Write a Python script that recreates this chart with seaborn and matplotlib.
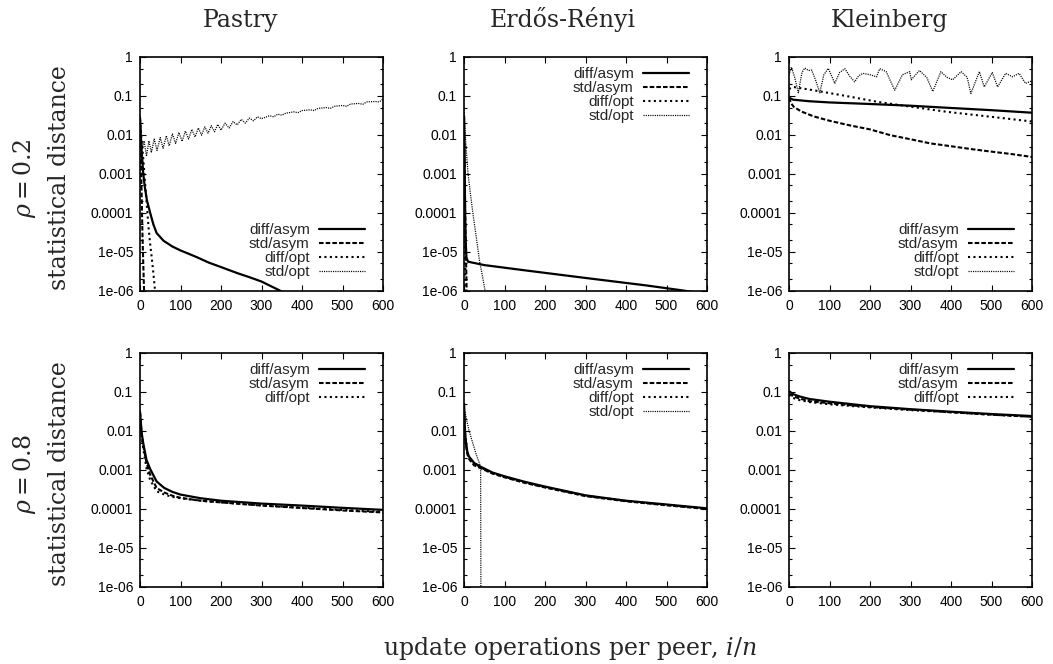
import numpy as np
import pandas as pd
import matplotlib
matplotlib.use("Agg")
import matplotlib.pyplot as plt
import matplotlib.ticker as mticker
import seaborn as sns

# ---------------- data ----------------
col_titles = ["Pastry", "Erdős-Rényi", "Kleinberg"]
row_labels = [r"$\rho = 0.2$", r"$\rho = 0.8$"]
ylabel_text = "statistical distance"
xlabel_text = r"update operations per peer, $i/n$"
xticks = [0, 100, 200, 300, 400, 500, 600]
yticks = [1e-6, 1e-5, 1e-4, 1e-3, 1e-2, 1e-1, 1]
ytick_labels = ["1e-06", "1e-05", "0.0001", "0.001", "0.01", "0.1", "1"]
series_names = ["diff/asym", "std/asym", "diff/opt", "std/opt"]

# Pastry, rho = 0.2
p2_da_x = [0, 2, 4, 8, 12, 17, 25, 33, 41, 58, 80, 100, 120, 140, 170, 200, 240, 270, 300, 345, 400]
p2_da_y = [0.028, 0.01, 4e-3, 1e-3, 4.5e-4, 2.1e-4, 1e-4, 5e-5, 3e-5, 1.9e-5, 1.35e-5, 1.07e-5,
           8.8e-6, 7.2e-6, 5.2e-6, 4e-6, 2.8e-6, 2.2e-6, 1.7e-6, 1e-6, 5e-7]
p2_sa_x = [0, 2, 4, 6, 8, 10, 12]
p2_sa_y = [0.025, 3e-3, 3e-4, 3e-5, 5e-6, 1e-6, 1e-7]
p2_do_x = [0, 4, 8, 12, 16, 21, 25, 29, 33, 37, 45]
p2_do_y = [0.025, 0.007, 2.5e-3, 6.8e-4, 2e-4, 4.3e-5, 1.6e-5, 7e-6, 2.8e-6, 1e-6, 1.5e-7]
p2_so_x = [0, 3, 6, 10, 16, 22, 28, 35, 42, 50, 57, 65, 72, 80, 88, 96, 104, 112, 120, 128,
           136, 144, 152, 160, 168, 176, 184, 192, 200, 210, 220, 230, 240, 250, 260, 270, 280,
           290, 300, 320, 330, 340, 350, 360, 380, 390, 400, 420, 430, 440, 460, 470, 480, 500,
           510, 520, 540, 550, 560, 580, 590, 600]
p2_so_y = [0.03, 0.008, 0.0045, 0.007, 0.0028, 0.007, 0.0035, 0.0078, 0.004, 0.0085, 0.0045,
           0.0095, 0.0052, 0.0105, 0.006, 0.0115, 0.0068, 0.0125, 0.0078, 0.0138, 0.0088, 0.015,
           0.0098, 0.016, 0.011, 0.0172, 0.012, 0.0185, 0.0132, 0.02, 0.015, 0.022, 0.018, 0.025,
           0.02, 0.027, 0.023, 0.029, 0.026, 0.031, 0.029, 0.034, 0.032, 0.036, 0.039, 0.037,
           0.042, 0.044, 0.042, 0.048, 0.05, 0.048, 0.054, 0.057, 0.054, 0.062, 0.064, 0.061,
           0.07, 0.072, 0.07, 0.082]

# Erdos-Renyi, rho = 0.2
e2_da_x = [0, 1, 2, 3, 4, 6, 10, 50, 150, 300, 450, 541, 600]
e2_da_y = [0.03, 0.005, 6e-4, 8e-5, 2e-5, 7e-6, 5.5e-6, 4.5e-6, 3.3e-6, 2.1e-6, 1.35e-6, 1e-6, 8e-7]
e2_sa_x = [0, 1, 2, 4, 6, 8]
e2_sa_y = [0.03, 0.004, 3e-4, 2e-5, 2e-6, 1e-7]
e2_do_x = [0, 1, 2, 3, 4, 5]
e2_do_y = [0.03, 0.002, 1e-4, 5e-6, 5e-7, 1e-8]
e2_so_x = [0, 4, 10, 16, 23, 30, 38, 45, 52, 60]
e2_so_y = [0.05, 0.007, 1e-3, 3e-4, 8e-5, 2.5e-5, 6e-6, 2.5e-6, 1e-6, 3e-7]

# Kleinberg, rho = 0.2
k2_da_x = [0, 10, 50, 100, 200, 300, 400, 500, 600]
k2_da_y = [0.09, 0.08, 0.073, 0.068, 0.062, 0.056, 0.049, 0.043, 0.037]
k2_sa_x = [0, 5, 12, 30, 60, 100, 150, 200, 250, 300, 350, 400, 450, 500, 550, 600]
k2_sa_y = [0.09, 0.065, 0.052, 0.04, 0.03, 0.023, 0.0175, 0.0138, 0.0098, 0.0077, 0.006,
           0.0051, 0.0043, 0.0037, 0.0032, 0.0027]
k2_do_x = [0, 10, 60, 140, 220, 300, 390, 500, 600]
k2_do_y = [0.15, 0.17, 0.14, 0.1, 0.07, 0.053, 0.039, 0.029, 0.022]
k2_so_x = [0, 6, 14, 23, 32, 39, 48, 56, 66, 76, 86, 97, 105, 113, 125, 138, 150, 162, 172,
           183, 200, 216, 224, 240, 261, 280, 298, 302, 322, 340, 355, 375, 390, 404, 425, 440,
           449, 470, 482, 502, 515, 535, 552, 568, 584, 598, 600]
k2_so_y = [0.35, 0.55, 0.3, 0.12, 0.4, 0.52, 0.45, 0.46, 0.25, 0.12, 0.35, 0.51, 0.33, 0.21,
           0.4, 0.5, 0.32, 0.23, 0.33, 0.38, 0.35, 0.31, 0.5, 0.42, 0.14, 0.35, 0.42, 0.26,
           0.45, 0.3, 0.13, 0.42, 0.3, 0.26, 0.42, 0.3, 0.115, 0.42, 0.17, 0.4, 0.17, 0.38,
           0.31, 0.38, 0.21, 0.24, 0.23]

# Pastry, rho = 0.8
p8_x = [0, 4, 8, 16, 25, 41, 60, 80, 100, 150, 200, 300, 400, 500, 600]
p8_da_y = [0.031, 0.009, 0.0048, 0.0018, 1.05e-3, 5e-4, 3.4e-4, 2.7e-4, 2.3e-4, 1.85e-4,
           1.6e-4, 1.35e-4, 1.2e-4, 1.05e-4, 9.3e-5]
p8_sa_y = [0.03, 0.008, 0.0042, 0.0015, 7.5e-4, 3.4e-4, 2.6e-4, 2.15e-4, 1.9e-4, 1.6e-4,
           1.45e-4, 1.2e-4, 1.04e-4, 9e-5, 8e-5]
p8_do_y = [0.028, 0.007, 0.0035, 1.1e-3, 5.5e-4, 2.8e-4, 2.3e-4, 2.0e-4, 1.85e-4, 1.6e-4,
           1.45e-4, 1.22e-4, 1.06e-4, 9.3e-5, 8.3e-5]

# Erdos-Renyi, rho = 0.8
e8_x = [0, 2, 4, 8, 12, 25, 41, 70, 100, 150, 200, 300, 400, 500, 600]
e8_da_y = [0.05, 0.012, 0.006, 0.003, 0.0022, 0.0015, 0.0012, 8.5e-4, 6.8e-4, 4.9e-4, 3.7e-4,
           2.2e-4, 1.6e-4, 1.28e-4, 1.02e-4]
e8_sa_y = [0.045, 0.01, 0.005, 0.0026, 0.0019, 0.0013, 1.1e-3, 8e-4, 6.4e-4, 4.6e-4, 3.5e-4,
           2.1e-4, 1.55e-4, 1.22e-4, 9.8e-5]
e8_do_y = [0.045, 0.011, 0.0055, 0.0028, 0.002, 0.0014, 1.15e-3, 8.2e-4, 6.6e-4, 4.75e-4,
           3.6e-4, 2.15e-4, 1.58e-4, 1.25e-4, 1e-4]
e8_so_x = [0, 6, 12, 20, 30, 41, 41.5, 42]
e8_so_y = [0.04, 0.02, 0.0106, 0.0055, 0.0025, 0.0012, 1e-5, 1e-8]

# Kleinberg, rho = 0.8
k8_x = [0, 10, 25, 50, 100, 200, 300, 400, 500, 600]
k8_da_y = [0.105, 0.088, 0.077, 0.066, 0.056, 0.043, 0.036, 0.031, 0.027, 0.024]
k8_sa_y = [0.09, 0.078, 0.068, 0.058, 0.051, 0.041, 0.035, 0.030, 0.026, 0.023]
k8_do_y = [0.085, 0.07, 0.062, 0.055, 0.048, 0.040, 0.034, 0.030, 0.026, 0.023]

panels = [
    [  # row rho = 0.2
        [(p2_da_x, p2_da_y), (p2_sa_x, p2_sa_y), (p2_do_x, p2_do_y), (p2_so_x, p2_so_y)],
        [(e2_da_x, e2_da_y), (e2_sa_x, e2_sa_y), (e2_do_x, e2_do_y), (e2_so_x, e2_so_y)],
        [(k2_da_x, k2_da_y), (k2_sa_x, k2_sa_y), (k2_do_x, k2_do_y), (k2_so_x, k2_so_y)],
    ],
    [  # row rho = 0.8
        [(p8_x, p8_da_y), (p8_x, p8_sa_y), (p8_x, p8_do_y)],
        [(e8_x, e8_da_y), (e8_x, e8_sa_y), (e8_x, e8_do_y), (e8_so_x, e8_so_y)],
        [(k8_x, k8_da_y), (k8_x, k8_sa_y), (k8_x, k8_do_y)],
    ],
]
legend_locs = [["lower right", "upper right", "lower right"],
               ["upper right", "upper right", "upper right"]]

# ---------------- styling ----------------
sns.set_theme(style="ticks")
plt.rcParams["font.family"] = ["Liberation Sans", "DejaVu Sans"]
plt.rcParams["mathtext.fontset"] = "dejavuserif"

styles = [
    dict(linestyle="-", lw=1.6),
    dict(linestyle=(0, (2.2, 1.0)), lw=1.5),
    dict(linestyle=(0, (1.0, 1.6)), lw=1.5),
    dict(linestyle=(0, (0.9, 0.9)), lw=0.9),
]

W, H = 1053, 664
fig = plt.figure(figsize=(W / 100, H / 100), dpi=100)
col_left = [140, 464, 789]
row_top = [57, 353]
aw, ah = 243, 233.5

serif = ["DejaVu Serif"]
title_size = 17

for r in range(2):
    for c in range(3):
        ax = fig.add_axes([col_left[c] / W, 1 - (row_top[r] + ah) / H, aw / W, ah / H])
        for i, (xs, ys) in enumerate(panels[r][c]):
            sns.lineplot(x=xs, y=ys, ax=ax, color="black", label=series_names[i],
                         sort=False, errorbar=None, estimator=None, **styles[i])
        ax.set_yscale("log")
        ax.set_xlim(0, 600)
        ax.set_ylim(1e-6, 1)
        ax.set_xticks(xticks)
        ax.set_xticklabels([str(t) for t in xticks])
        ax.set_yticks(yticks)
        ax.set_yticklabels(ytick_labels)
        ax.yaxis.set_minor_locator(mticker.LogLocator(base=10, subs=(2.0, 5.0), numticks=20))
        ax.yaxis.set_minor_formatter(mticker.NullFormatter())
        ax.tick_params(which="both", direction="in", top=True, right=True,
                       labelsize=10, colors="black", width=0.8)
        ax.tick_params(which="major", length=4.5, pad=5)
        ax.tick_params(which="minor", length=2.5)
        ax.tick_params(axis="x", pad=6)
        for s in ax.spines.values():
            s.set_linewidth(1.2)
            s.set_color("black")
        ax.set_xlabel("")
        ax.set_ylabel("")
        loc = legend_locs[r][c]
        anchor = (1 - 6 / aw, -1 / ah) if loc == "lower right" else (1 - 6 / aw, 1 + 2 / ah)
        ax.legend(loc=loc, bbox_to_anchor=anchor, frameon=False, markerfirst=False,
                  fontsize=11, handlelength=3.0, handletextpad=0.6,
                  labelspacing=0.0, borderaxespad=0.5, borderpad=0.3)

# titles (centered over tick labels + plot area, as in the reference)
col_centers = [241, 563, 889]
for c in range(3):
    fig.text(col_centers[c] / W, 1 - 20 / H, col_titles[c], ha="center", va="center",
             fontsize=title_size, family=serif)

# row labels
for r in range(2):
    yc = 1 - (row_top[r] + ah / 2 + 4) / H
    fig.text(25 / W, yc, row_labels[r], rotation=90, ha="center", va="center",
             fontsize=title_size, family=serif)
    fig.text(60 / W, yc, ylabel_text, rotation=90, ha="center", va="center",
             fontsize=title_size, family=serif)

fig.text(383 / W, 1 - 648 / H, xlabel_text, ha="left", va="center",
         fontsize=title_size, family=serif)

fig.savefig("out.png", dpi=100)
